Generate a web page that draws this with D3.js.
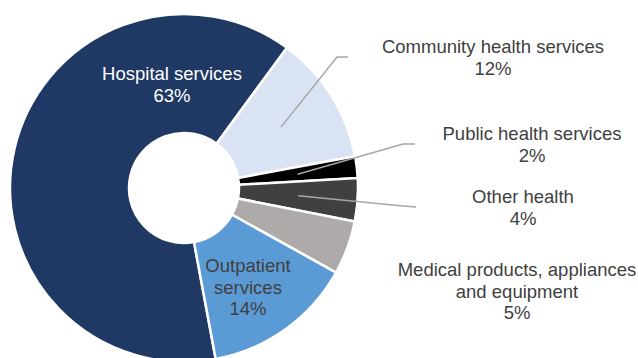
<!DOCTYPE html>
<html>
<head>
<meta charset="utf-8">
<script src="https://cdn.jsdelivr.net/npm/d3@7"></script>
<style>
  html, body { margin: 0; padding: 0; background: #fff; }
  svg text { font-family: "Liberation Sans", Arial, sans-serif; }
</style>
</head>
<body>
<svg id="chart" width="638" height="358"></svg>
<script>
// Health expenditure by function (share of total, %)
const categories = [
  "Hospital services",
  "Community health services",
  "Public health services",
  "Other health",
  "Medical products, appliances and equipment",
  "Outpatient services"
];
const shares = [63, 12, 2, 4, 5, 14];

const colors = ["#203864", "#dae3f3", "#000000", "#404040", "#aeaaaa", "#5b9bd5"];

// Category names broken into display lines
const nameLines = [
  ["Hospital services"],
  ["Community health services"],
  ["Public health services"],
  ["Other health"],
  ["Medical products, appliances", "and equipment"],
  ["Outpatient", "services"]
];
const labelAnchor = [
  { x: 172, y: 80, fill: "#ffffff" },
  { x: 493, y: 53, fill: "#404040" },
  { x: 532, y: 140, fill: "#404040" },
  { x: 523, y: 203, fill: "#404040" },
  { x: 517, y: 276, fill: "#404040" },
  { x: 248, y: 272, fill: "#404040" }
];
// Leader lines: elbow and end points for outside labels (null = none)
const leaders = [
  null,
  [[337, 57], [348, 57]],
  [[403, 144], [415, 144]],
  [[403, 206], [416, 207]],
  null,
  null
];

const cx = 184, cy = 188, rOuter = 174, rInner = 55;
const deg = Math.PI / 180;
const startAngle = 169.5 * deg;

const svg = d3.select("#chart");
const g = svg.append("g").attr("transform", `translate(${cx},${cy})`);

const data = categories.map((c, i) => ({ name: c, value: shares[i], i }));

const pie = d3.pie()
  .sort(null)
  .value(d => d.value)
  .startAngle(startAngle)
  .endAngle(startAngle + 2 * Math.PI);

const arc = d3.arc().innerRadius(rInner).outerRadius(rOuter);

const arcs = pie(data);

g.selectAll("path.slice")
  .data(arcs)
  .join("path")
  .attr("class", "slice")
  .attr("d", arc)
  .attr("fill", d => colors[d.data.i])
  .attr("stroke", "#ffffff")
  .attr("stroke-width", 2.5)
  .attr("stroke-linejoin", "miter");

// Leader lines from slice centroid
arcs.forEach(d => {
  const L = leaders[d.data.i];
  if (!L) return;
  const c = arc.centroid(d);
  const pts = [[c[0] + cx, c[1] + cy], ...L];
  svg.append("path")
    .attr("d", d3.line()(pts))
    .attr("fill", "none")
    .attr("stroke", "#a6a6a6")
    .attr("stroke-width", 1.5);
});

// Labels: name lines followed by the share
const lineH = 21.5;
data.forEach((d, i) => {
  const a = labelAnchor[i];
  const lines = [...nameLines[i], `${d.value}%`];
  const t = svg.append("text")
    .attr("x", a.x)
    .attr("y", a.y)
    .attr("text-anchor", "middle")
    .attr("font-size", 18.5)
    .attr("fill", a.fill);
  lines.forEach((s, j) => {
    t.append("tspan")
      .attr("x", a.x)
      .attr("y", a.y + j * lineH)
      .text(s);
  });
});
</script>
</body>
</html>
